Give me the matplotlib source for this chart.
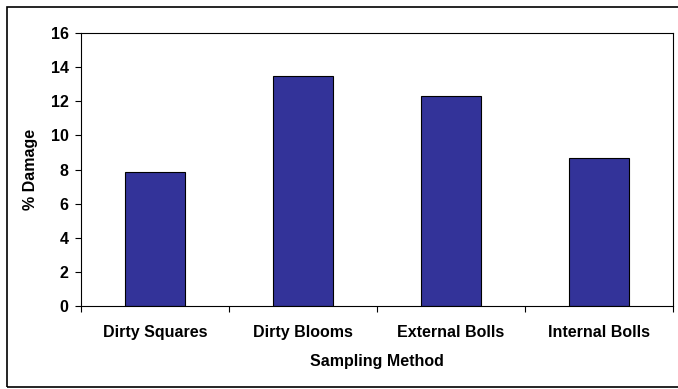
import matplotlib
matplotlib.use("Agg")
import matplotlib.pyplot as plt
from matplotlib.patches import Rectangle
import numpy as np

# Data
methods = ["Dirty Squares", "Dirty Blooms", "External Bolls", "Internal Bolls"]
damage = [7.85, 13.5, 12.33, 8.66]

plt.rcParams["font.family"] = ["Liberation Sans", "DejaVu Sans"]
plt.rcParams["font.weight"] = "bold"

W, H = 678, 389
fs = 11.5
fig = plt.figure(figsize=(W / 100, H / 100), dpi=100)

# outer chart border (right side runs off the image)
fig.patches.append(Rectangle((7 / W, 2 / H), 1.0, 380 / H, transform=fig.transFigure,
                             fill=False, edgecolor="black", linewidth=1.2))

ax = fig.add_axes([81 / W, (H - 306) / H, 592 / W, 273 / H])

x = np.arange(len(methods))
ax.bar(x, damage, width=0.4, color="#333399", edgecolor="black", linewidth=0.8)

ax.set_xlim(-0.5, len(methods) - 0.5)
ax.set_ylim(0, 16)
ax.set_yticks(range(0, 17, 2))

# category labels centred, ticks on category boundaries
ax.set_xticks(x)
ax.set_xticklabels(methods, fontsize=fs, fontweight="bold")
ax.set_xticks(np.arange(-0.5, len(methods)), minor=True)
ax.tick_params(axis="x", which="major", length=0, pad=13.5)
ax.tick_params(axis="x", which="minor", length=4, direction="out", width=0.8)
ax.tick_params(axis="y", length=4, direction="out", width=0.8, labelsize=fs, pad=5)
for lab in ax.get_yticklabels():
    lab.set_fontweight("bold")

for sp in ax.spines.values():
    sp.set_linewidth(0.8)
    sp.set_color("black")

ax.set_xlabel("Sampling Method", fontsize=fs, fontweight="bold", labelpad=10.5)
ax.set_ylabel("% Damage", fontsize=fs, fontweight="bold", labelpad=9)

fig.savefig("out.png", dpi=100)
